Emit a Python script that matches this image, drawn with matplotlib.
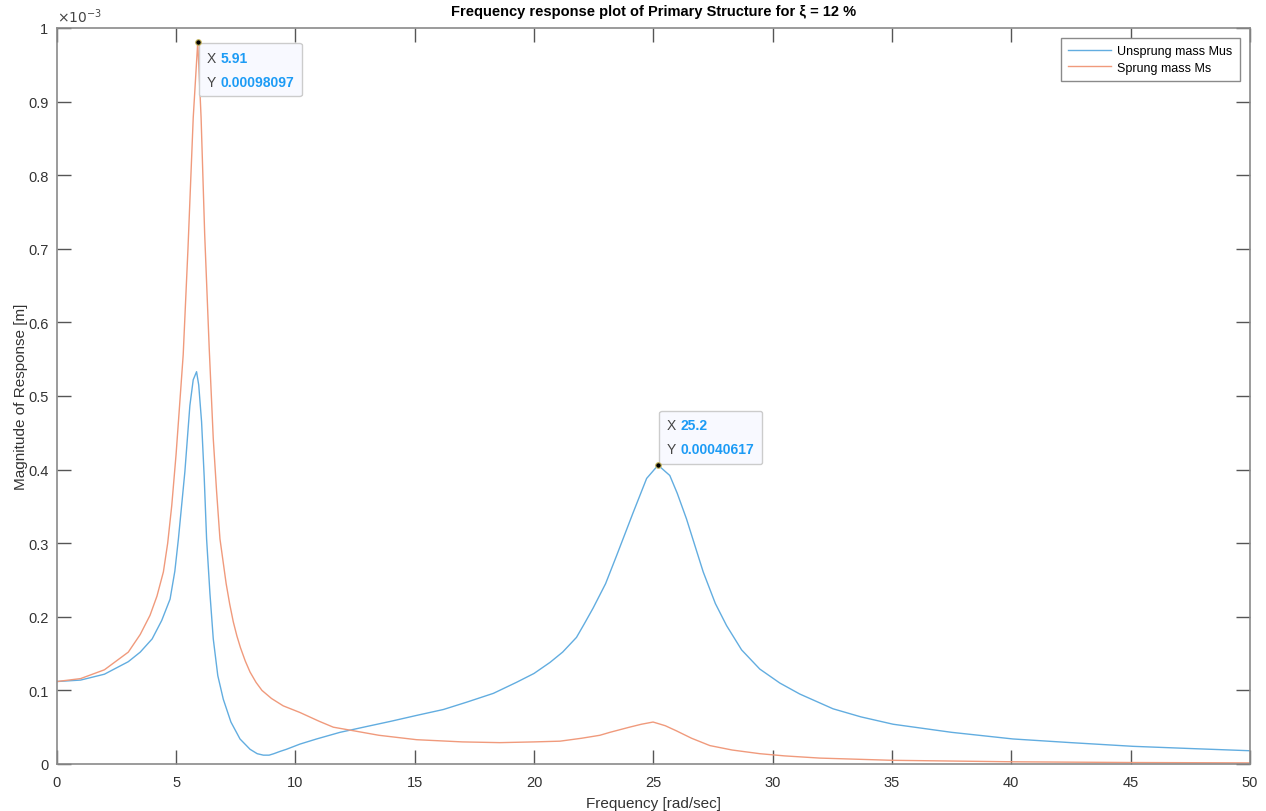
import matplotlib
matplotlib.use('Agg')
import matplotlib.pyplot as plt
import numpy as np
from matplotlib.offsetbox import TextArea, HPacker, VPacker, AnnotationBbox

plt.rcParams['font.family'] = ['Liberation Sans', 'DejaVu Sans']

# Values (magnitudes in units of 1e-3 m)
freq_mus = [0, 1, 2, 3, 3.5, 4, 4.4, 4.75, 4.95, 5.1, 5.37, 5.58, 5.72, 5.86, 5.95, 6.07,
            6.18, 6.28, 6.42, 6.56, 6.75, 6.98, 7.3, 7.68, 8.1, 8.4, 8.66, 8.9, 9.1, 9.35,
            9.63, 10.19, 10.89, 11.87, 13.0, 14.0, 15.08, 16.2, 17.18, 18.3, 19.27, 20.0,
            20.67, 21.2, 21.78, 22.1, 22.48, 23.0, 23.46, 24.16, 24.72, 25.2, 25.69, 26.0,
            26.39, 27.09, 27.6, 28.07, 28.7, 29.46, 30.3, 31.14, 32.53, 33.7, 35.05, 37.5,
            40.07, 42.5, 45.1, 47.5, 50]
mag_mus = [0.112, 0.114, 0.122, 0.139, 0.152, 0.170, 0.195, 0.224, 0.262, 0.306, 0.397,
           0.487, 0.522, 0.533, 0.515, 0.465, 0.390, 0.306, 0.232, 0.170, 0.120, 0.088,
           0.057, 0.034, 0.020, 0.014, 0.012, 0.012, 0.014, 0.017, 0.020, 0.027, 0.034,
           0.043, 0.051, 0.058, 0.066, 0.074, 0.084, 0.096, 0.111, 0.123, 0.138, 0.152,
           0.172, 0.190, 0.212, 0.245, 0.283, 0.342, 0.388, 0.406, 0.392, 0.368, 0.333,
           0.261, 0.218, 0.188, 0.155, 0.129, 0.110, 0.095, 0.075, 0.064, 0.054, 0.043,
           0.034, 0.029, 0.024, 0.021, 0.018]

freq_ms = [0, 1, 2, 3, 3.5, 3.91, 4.2, 4.47, 4.65, 4.82, 5.0, 5.1, 5.3, 5.5, 5.72, 5.91,
           6.05, 6.2, 6.39, 6.56, 6.7, 6.84, 7.1, 7.25, 7.4, 7.55, 7.7, 7.9, 8.1, 8.35,
           8.6, 9.0, 9.49, 10.19, 11.0, 11.59, 12.29, 13.5, 15.08, 17.0, 18.57, 20.0,
           21.09, 22.0, 22.76, 23.18, 24.0, 24.5, 24.99, 25.5, 25.97, 26.6, 27.37, 28.3,
           29.46, 30.5, 31.98, 35.0, 40.0, 45.0, 50.0]
mag_ms = [0.112, 0.116, 0.128, 0.152, 0.176, 0.202, 0.228, 0.261, 0.300, 0.351, 0.420,
          0.465, 0.556, 0.700, 0.878, 0.981, 0.878, 0.720, 0.565, 0.442, 0.370, 0.306,
          0.245, 0.217, 0.193, 0.174, 0.158, 0.140, 0.125, 0.111, 0.100, 0.089, 0.079,
          0.070, 0.058, 0.050, 0.046, 0.039, 0.033, 0.030, 0.029, 0.030, 0.031, 0.035,
          0.039, 0.043, 0.050, 0.054, 0.057, 0.052, 0.045, 0.035, 0.025, 0.019, 0.014,
          0.011, 0.008, 0.005, 0.003, 0.002, 0.0015]

# data tips
tips = [(5.91, 0.00098097, '5.91', '0.00098097', 'below'),
        (25.2, 0.00040617, '25.2', '0.00040617', 'above')]

scale = 1e-3

fig = plt.figure(figsize=(12.66, 8.12), dpi=100)
ax = fig.add_axes([0.0448, 0.0579, 0.9425, 0.9064])

ax.plot(freq_mus, np.array(mag_mus) * scale, color='#62ade0', lw=1.0, label='Unsprung mass Mus')
ax.plot(freq_ms, np.array(mag_ms) * scale, color='#f09a7c', lw=1.0, label='Sprung mass Ms')

ax.set_xlim(0, 50)
ax.set_ylim(0, 1e-3)
ax.set_xticks(np.arange(0, 51, 5))
ax.set_yticks(np.arange(0, 11) * 1e-4)
ax.yaxis.set_major_formatter(plt.FuncFormatter(lambda v, p: f'{v * 1e3:.10g}'))
ax.tick_params(direction='in', length=10, width=1, color='#555555', labelsize=10.5,
               labelcolor='#333333', top=True, right=True)
ax.tick_params(axis='x', pad=8)
ax.tick_params(axis='y', pad=6)
for s in ax.spines.values():
    s.set_color('#8a8a8a')
    s.set_linewidth(1.2)

ax.text(0.0, 1.004, r'$\times10^{-3}$', transform=ax.transAxes, fontsize=10,
        color='#444444', ha='left', va='bottom')

ax.set_title('Frequency response plot of Primary Structure for ξ = 12 %',
             fontsize=10.5, fontweight='bold', pad=9)
ax.set_xlabel('Frequency [rad/sec]', fontsize=11, color='#333333', labelpad=5)
ax.set_ylabel('Magnitude of Response [m]', fontsize=11, color='#333333', labelpad=0)

leg = ax.legend(loc='upper right', fontsize=9, fancybox=False, edgecolor='#8a8a8a',
                framealpha=1, borderaxespad=0.8, handlelength=3.4, borderpad=0.6,
                labelspacing=0.35, handletextpad=0.5)
leg.get_frame().set_linewidth(1.0)

for tx, ty, xs, ys, side in tips:
    rows = []
    for k, v in (('X', xs), ('Y', ys)):
        rows.append(HPacker(children=[
            TextArea(k, textprops=dict(color='#444444', fontsize=10)),
            TextArea(v, textprops=dict(color='#1c9bf5', fontsize=10, fontweight='bold'))],
            sep=3, pad=0))
    box = VPacker(children=rows, sep=7, pad=0, align='left')
    if side == 'below':
        xybox, align = (9, -9), (0, 1)
    else:
        xybox, align = (9, 9), (0, 0)
    ab = AnnotationBbox(box, (tx, ty), xybox=xybox, xycoords='data',
                        boxcoords='offset pixels', box_alignment=align, pad=0.55,
                        bboxprops=dict(facecolor='#f8f9ff', edgecolor='#cccccc',
                                       boxstyle='round,pad=0.55,rounding_size=0.15'),
                        zorder=6)
    ax.add_artist(ab)
    ax.plot(tx, ty, 'o', ms=4, mfc='black', mec='#c8b860', mew=0.8, zorder=7,
            clip_on=False)

fig.savefig('out.png', dpi=100)
